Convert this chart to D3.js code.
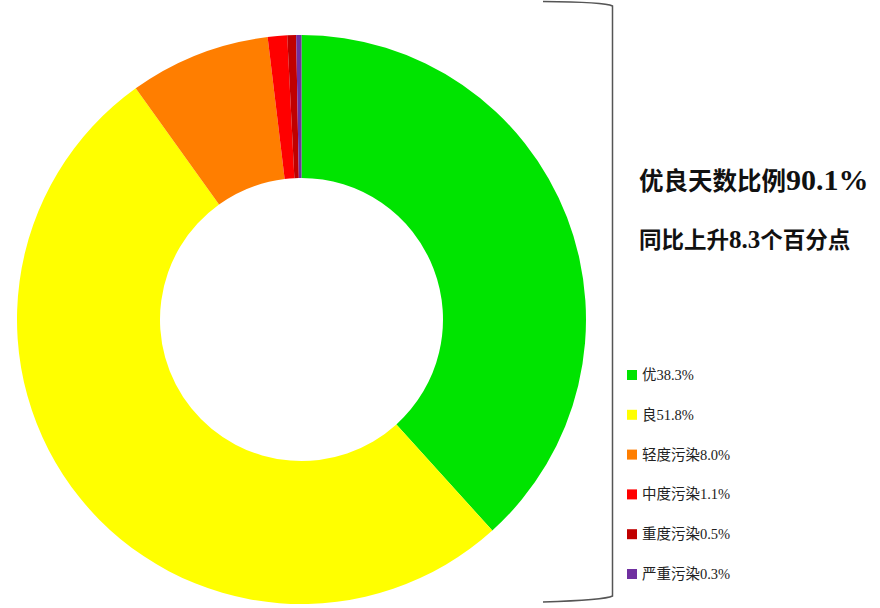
<!DOCTYPE html>
<html>
<head>
<meta charset="utf-8">
<script src="https://cdn.jsdelivr.net/npm/d3@7"></script>
<style>
  html, body { margin: 0; padding: 0; background: #fff; }
  svg { display: block; }
</style>
</head>
<body>
<div id="chart"></div>
<script>
// datos del gráfico
var categories = ["优", "良", "轻度污染", "中度污染", "重度污染", "严重污染"];
var values = [38.3, 51.8, 8.0, 1.1, 0.5, 0.3];
var colors = ["#00E400", "#FFFF00", "#FF7E00", "#FF0000", "#C00000", "#7030A0"];
// cada línea del título: [texto, número, texto]
var titleLine1 = ["优良天数比例", "90.1%", ""];
var titleLine2 = ["同比上升", "8.3", "个百分点"];

var width = 880, height = 608;

var svg = d3.select("#chart")
            .append("svg")
            .attr("width", width)
            .attr("height", height);

// anillo
var cx = 301.5, cy = 319.5;
var outerR = 284.5, innerR = 141.5;

var pie = d3.pie().sort(null).value(function(d){ return d; });
var arc = d3.arc().innerRadius(innerR).outerRadius(outerR);

var ring = svg.append("g").attr("transform", "translate(" + cx + "," + cy + ")");
ring.selectAll("path")
    .data(pie(values))
    .enter()
    .append("path")
    .attr("d", arc)
    .attr("fill", function(d, i){ return colors[i]; });

// llave (corchete) a la derecha
var bx = 612.5;
svg.append("path")
   .attr("d", "M543,1.5 Q605,2 " + bx + ",6 L" + bx + ",596 Q605,600 543,602")
   .attr("fill", "none")
   .attr("stroke", "#555")
   .attr("stroke-width", 1.5);

// textos
var cjkSerif = "'Liberation Serif', 'Noto Sans CJK SC', serif";

function titleText(parts, y, cjkSize, numSize){
  var t = svg.append("text")
             .attr("x", 639)
             .attr("y", y)
             .attr("font-family", cjkSerif)
             .attr("font-weight", "bold")
             .attr("fill", "#111");
  t.append("tspan").attr("font-size", cjkSize).text(parts[0]);
  t.append("tspan").attr("font-size", numSize).text(parts[1]);
  if(parts[2])
    t.append("tspan").attr("font-size", cjkSize).text(parts[2]);
}

titleText(titleLine1, 190, 24.5, 30);
titleText(titleLine2, 248, 22.5, 25);

// leyenda
var legendY = d3.scaleLinear().domain([0, categories.length - 1]).range([375, 574]);
var legend = svg.append("g");
var items = legend.selectAll("g")
    .data(categories)
    .enter()
    .append("g")
    .attr("transform", function(d, i){ return "translate(627," + legendY(i) + ")"; });

items.append("rect")
     .attr("x", 0)
     .attr("y", -5)
     .attr("width", 10)
     .attr("height", 10)
     .attr("fill", function(d, i){ return colors[i]; });

items.append("text")
     .attr("x", 15)
     .attr("y", 5)
     .attr("font-family", cjkSerif)
     .attr("font-size", 14.5)
     .attr("fill", "#222")
     .text(function(d, i){ return d + values[i].toFixed(1) + "%"; });
</script>
</body>
</html>
